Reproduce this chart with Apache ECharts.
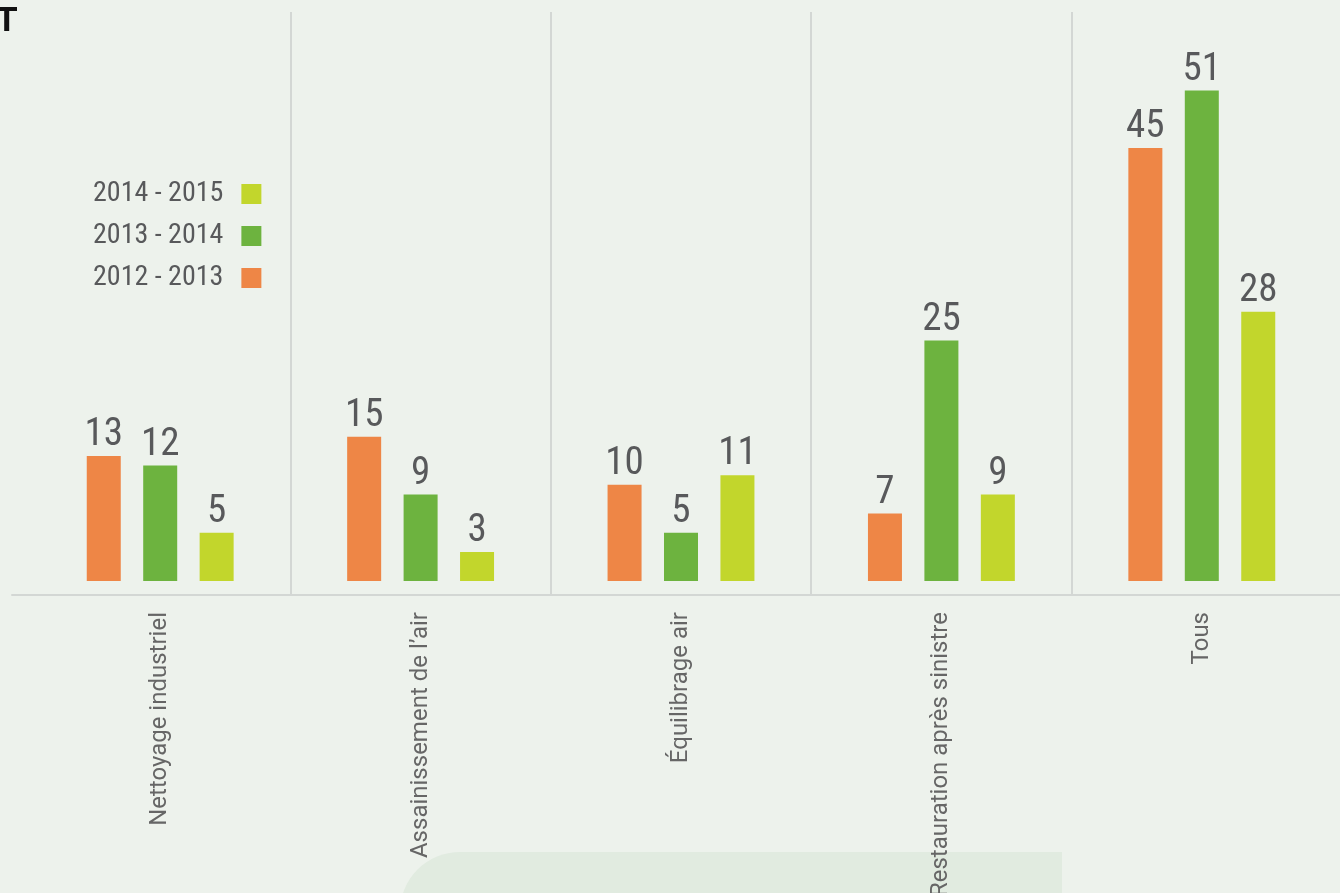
<!DOCTYPE html>
<html><head><meta charset="utf-8">
<script src="https://cdn.jsdelivr.net/npm/echarts@6/dist/echarts.min.js"></script>
<style>html,body{margin:0;padding:0;background:#edf2ec;}#c{width:1340px;height:893px;}</style>
</head><body><div id="c"></div>
<script>
const categories = ['Nettoyage industriel', "Assainissement de l’air", 'Équilibrage air', 'Restauration après sinistre', 'Tous'];
const seriesNames = ['2012 - 2013', '2013 - 2014', '2014 - 2015'];
const values2012 = [13, 15, 10, 7, 45];
const values2013 = [12, 9, 5, 25, 51];
const values2014 = [5, 3, 11, 9, 28];
const colors = ['#ee8646', '#6db33f', '#c2d62c'];
const legendOrder = ['2014 - 2015', '2013 - 2014', '2012 - 2013'];

const narrow = "'Liberation Sans Narrow', 'Roboto Condensed', 'DejaVu Sans Condensed', sans-serif";
const sep = '#d3d7d4';
const chart = echarts.init(document.getElementById('c'));
const mk = (name, data, color) => ({
  name, type: 'bar', data, barWidth: 34, barGap: '66%',
  itemStyle: { color },
  label: { show: true, position: 'top', distance: 1, color: '#58595b', fontSize: 39, fontFamily: narrow },
  xAxisIndex: 0, yAxisIndex: 0
});
chart.setOption({
  backgroundColor: '#edf2ec',
  animation: false,
  title: { text: 'T', left: -9, top: -1, textStyle: { fontSize: 35, fontWeight: 'bold', color: '#111', fontFamily: "'Liberation Sans', Arial, sans-serif" } },
  graphic: [{ type: 'rect', left: 400, top: 852, shape: { width: 662, height: 60, r: [60, 0, 0, 0] }, style: { fill: '#e1ebe0' }, z: -10 }],
  legend: {
    data: legendOrder, orient: 'vertical', left: 88, top: 175, align: 'right',
    itemWidth: 20, itemHeight: 20, itemGap: 14, icon: 'rect',
    textStyle: { fontSize: 28, color: '#58595b', fontFamily: narrow, padding: [0, 13, 0, 0] }
  },
  grid: [
    { left: 30, right: 8, top: 12, bottom: 298, containLabel: false, outerBoundsMode: 'none' },
    { left: 12, right: 0, top: 12, bottom: 298, containLabel: false, outerBoundsMode: 'none' }
  ],
  xAxis: [
    { type: 'category', data: categories, gridIndex: 0,
      axisLine: { show: false, onZero: false }, axisTick: { show: false },
      splitLine: { show: true, interval: (i) => i > 0 && i < categories.length,
        lineStyle: { color: [sep, sep, sep, sep, 'rgba(0,0,0,0)'], width: 2 } },
      axisLabel: { rotate: 90, margin: 17, fontSize: 24, color: '#666', fontFamily: 'Roboto, sans-serif' } },
    { type: 'value', gridIndex: 1, min: 0, max: 1,
      axisLine: { show: true, onZero: false, lineStyle: { color: sep, width: 2 } },
      axisTick: { show: false }, axisLabel: { show: false }, splitLine: { show: false } }
  ],
  yAxis: [
    { type: 'value', gridIndex: 0, min: -1.46, max: 59.15, show: false, splitLine: { show: false } },
    { type: 'value', gridIndex: 1, min: 0, max: 1, show: false }
  ],
  series: [
    mk(seriesNames[0], values2012, colors[0]),
    mk(seriesNames[1], values2013, colors[1]),
    mk(seriesNames[2], values2014, colors[2])
  ]
});
</script></body></html>
